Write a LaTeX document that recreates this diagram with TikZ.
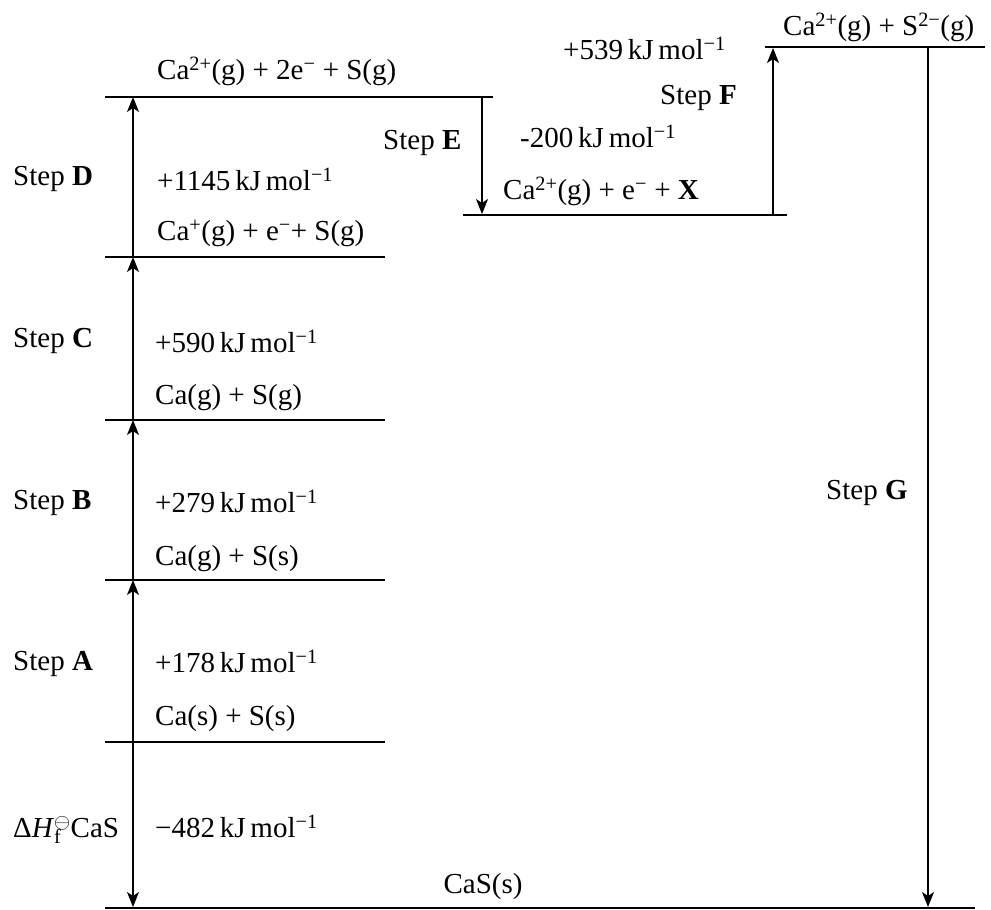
\documentclass[tikz,border=0pt]{standalone}
\usepackage{fontspec}
\setmainfont{Liberation Serif}
\usetikzlibrary{arrows.meta}
\tikzset{
  lbl/.style={anchor=west,inner sep=0pt,yshift=-5pt,font=\fontsize{29}{32}\selectfont,text height=0.72em,text depth=0.22em},
  lvl/.style={line width=1.6pt},
  stp/.style={line width=1.1pt,-{Stealth[length=15pt,width=12pt,inset=4pt]}}
}
\newcommand{\kj}[1]{#1\,kJ\,mol\textsuperscript{−1}}
\begin{document}
\begin{tikzpicture}[x=1pt,y=-1pt]
\useasboundingbox[fill=white] (0,0) rectangle (991,910);
% level end points
\coordinate (Lg1) at (105,97);  \coordinate (Lg2) at (493,97);
\coordinate (Lc1) at (105,257); \coordinate (Lc2) at (385,257);
\coordinate (Lb1) at (105,420); \coordinate (Lb2) at (385,420);
\coordinate (La1) at (105,580); \coordinate (La2) at (385,580);
\coordinate (L01) at (105,742); \coordinate (L02) at (385,742);
\coordinate (Ls1) at (105,908); \coordinate (Ls2) at (975,908);
\coordinate (Lx1) at (463,215); \coordinate (Lx2) at (787,215);
\coordinate (Lt1) at (765,47);  \coordinate (Lt2) at (985,47);
\foreach \a/\b in {Lg1/Lg2,Lc1/Lc2,Lb1/Lb2,La1/La2,L01/L02,Ls1/Ls2,Lx1/Lx2,Lt1/Lt2}
  \draw[lvl] (\a) -- (\b);
% arrow anchor points
\coordinate (a0) at (133,742); \coordinate (a1) at (133,580);
\coordinate (a2) at (133,420); \coordinate (a3) at (133,257);
\coordinate (a4) at (133,97);  \coordinate (a5) at (133,907);
\coordinate (e1) at (482,97);  \coordinate (e2) at (482,214);
\coordinate (f1) at (773,215); \coordinate (f2) at (773,48);
\coordinate (g1) at (928,47);  \coordinate (g2) at (928,907);
\draw[stp] (a0) -- (a1);
\draw[stp] (a1) -- (a2);
\draw[stp] (a2) -- (a3);
\draw[stp] (a3) -- (a4);
\draw[stp] (a0) -- (a5);
\draw[stp] (e1) -- (e2);
\draw[stp] (f1) -- (f2);
\draw[stp] (g1) -- (g2);
% labels
\node[lbl] (t1) at (157,72) {Ca\textsuperscript{2+}(g) + 2e\textsuperscript{−} + S(g)};
\node[lbl] (sD) at (13,178) {Step \textbf{D}};
\node[lbl] (vD) at (157,183) {\kj{+1145}};
\node[lbl] (t2) at (157,233) {Ca\textsuperscript{+}(g) + e\textsuperscript{−}+ S(g)};
\node[lbl] (sE) at (383,142) {Step \textbf{E}};
\node[lbl] (sC) at (13,340) {Step \textbf{C}};
\node[lbl] (vC) at (155,345) {\kj{+590}};
\node[lbl] (t3) at (155,397) {Ca(g) + S(g)};
\node[lbl] (sB) at (13,502) {Step \textbf{B}};
\node[lbl] (vB) at (155,505) {\kj{+279}};
\node[lbl] (t4) at (155,558) {Ca(g) + S(s)};
\node[lbl] (sA) at (13,663) {Step \textbf{A}};
\node[lbl] (vA) at (155,665) {\kj{+178}};
\node[lbl] (t5) at (155,718) {Ca(s) + S(s)};
\node[lbl] (sH) at (13,830) {Δ\textit{H}\rlap{\textsubscript{f}}\textsuperscript{$\ominus$}CaS};
\node[lbl] (vH) at (155,830) {\kj{−482}};
\node[lbl,anchor=center] (t6) at (483,886) {CaS(s)};
\node[lbl] (vF) at (563,52) {\kj{+539}};
\node[lbl] (sF) at (660,97) {Step \textbf{F}};
\node[lbl] (vE) at (520,140) {\kj{-200}};
\node[lbl] (t7) at (503,192) {Ca\textsuperscript{2+}(g) + e\textsuperscript{−} + \textbf{X}};
\node[lbl] (t8) at (783,28) {Ca\textsuperscript{2+}(g) + S\textsuperscript{2−}(g)};
\node[lbl] (sG) at (826,492) {Step \textbf{G}};
\end{tikzpicture}
\end{document}
